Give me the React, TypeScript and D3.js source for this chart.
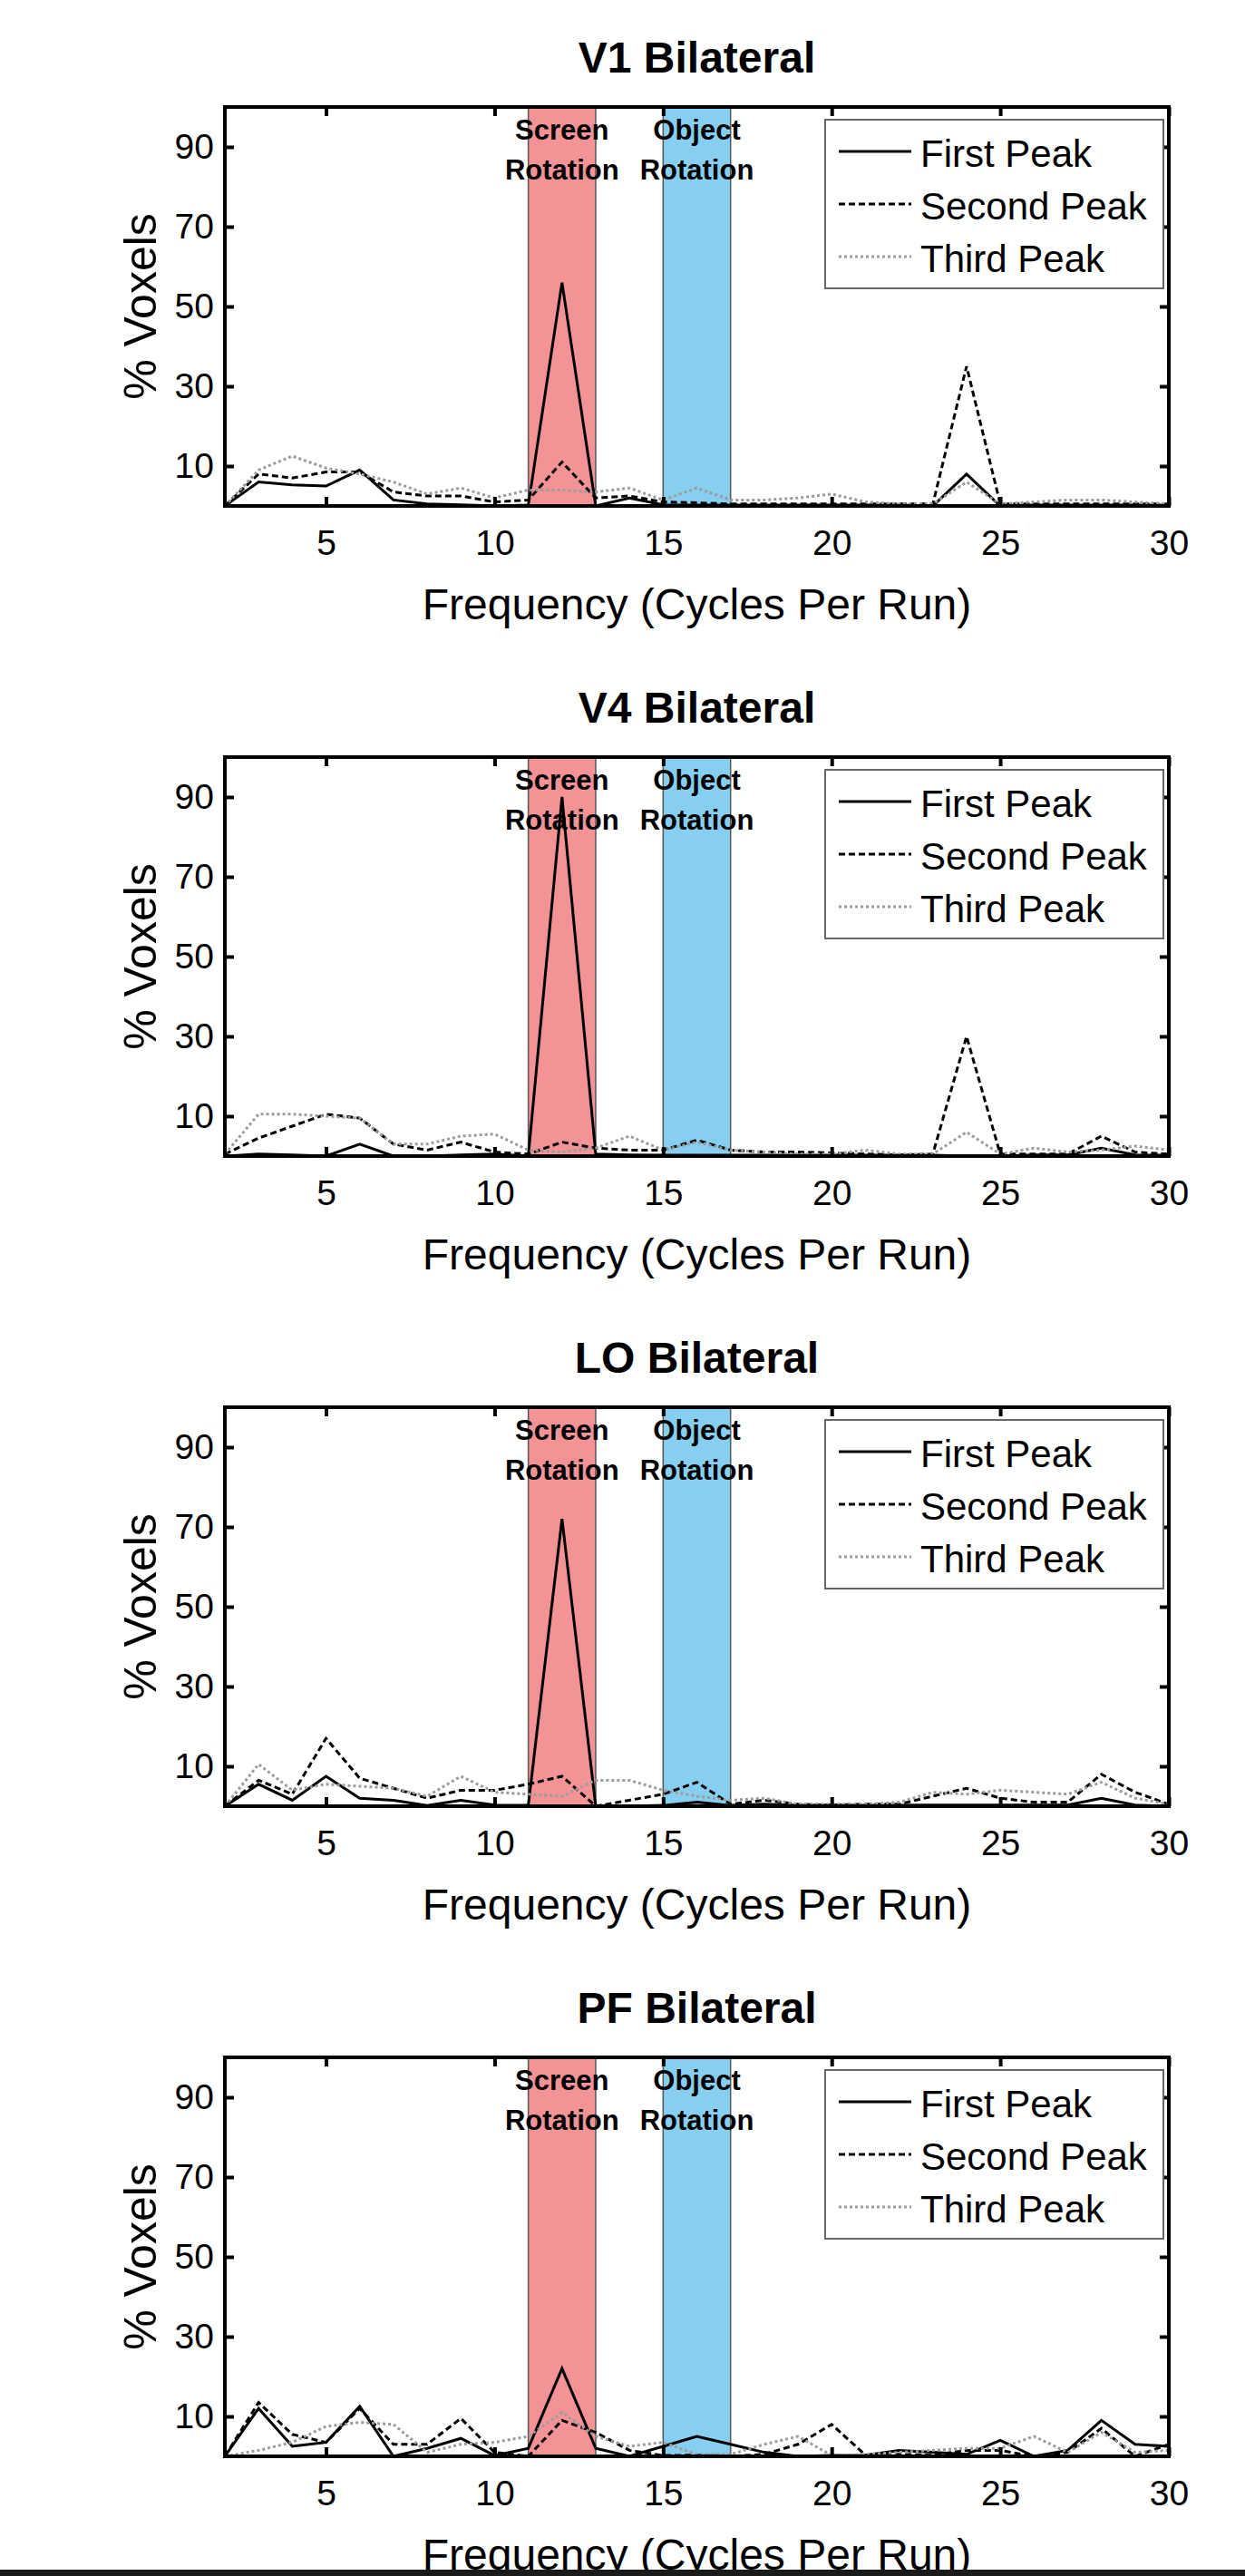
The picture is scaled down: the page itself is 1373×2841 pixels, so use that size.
import React, { useEffect, useRef } from 'react';
import * as d3 from 'd3';

// frequencies (cycles per run) sampled in every panel
const FREQS = [2, 3, 4, 5, 6, 7, 8, 9, 10, 11, 12, 13, 14, 15, 16, 17, 18, 19, 20, 21, 22, 23, 24, 25, 26, 27, 28, 29, 30];
const X_TICKS = [5, 10, 15, 20, 25, 30];
const Y_TICKS = [10, 30, 50, 70, 90];

const TITLES = ['V1 Bilateral', 'V4 Bilateral', 'LO Bilateral', 'PF Bilateral'];
const SERIES_NAMES = ['First Peak', 'Second Peak', 'Third Peak'];

// highlighted frequency bands
const BAND_RANGES = [[11, 13], [15, 17]];
const BAND_LABELS = [['Screen', 'Rotation'], ['Object', 'Rotation']];

// % voxels per frequency
const V1_FIRST = [0, 6, 5.3, 5, 9, 1.5, 0.5, 0.3, 0, 0.2, 56, 0, 2, 0.3, 0.2, 0.2, 0.2, 0.2, 0.2, 0.2, 0.2, 0, 8, 0, 0.2, 0.2, 0.2, 0.2, 0.2];
const V1_SECOND = [0, 8, 7, 8.5, 8.5, 3.5, 2.5, 2.5, 1, 1.5, 11, 2, 2.5, 1, 0.8, 0.5, 0.5, 0.5, 0.5, 0.5, 0.5, 0.5, 35, 0.5, 0.5, 0.5, 0.5, 0.5, 0.5];
const V1_THIRD = [0, 9, 12.5, 9.5, 8, 6, 3, 4.5, 2, 4, 4, 3.5, 4.5, 1.5, 4.5, 1.5, 1.5, 2, 3, 1, 0.5, 0.5, 6, 0.5, 1, 1.5, 1.5, 1, 0.5];

const V4_FIRST = [0, 0.5, 0.3, 0, 3, 0, 0, 0.3, 0.5, 0, 90, 0.5, 0.3, 0.2, 0.2, 0.2, 0.2, 0.2, 0.2, 0.2, 0.2, 0.2, 0, 0, 0.3, 0.3, 2, 0.3, 0.2];
const V4_SECOND = [0.5, 4.5, 7.5, 10.5, 9.5, 3, 1.5, 3.5, 1, 0.5, 3.5, 2, 1.5, 1.5, 4, 1.5, 1, 1, 0.8, 0.5, 0.3, 0.5, 30, 0.5, 0.5, 0.5, 5, 1, 0.5];
const V4_THIRD = [0.5, 10.5, 10.5, 10, 9.5, 3, 3, 5, 5.5, 1.5, 1, 2, 5, 1.5, 3.5, 1.5, 1, 0.5, 0.5, 1.5, 0.5, 0.5, 6, 0.5, 2, 1, 1.5, 2.5, 1.5];

const LO_FIRST = [0, 5.5, 1.5, 7.5, 2, 1.5, 0.2, 1.5, 0.3, 0.2, 72, 0, 0, 0.2, 1, 0.2, 0.5, 0.2, 0.2, 0.2, 0.2, 0.3, 0.3, 0.3, 0.3, 0.3, 2, 0.3, 0];
const LO_SECOND = [0, 6.5, 3, 17, 7, 4.5, 2, 4, 4, 5.5, 7.5, 0, 1.5, 3, 6, 0.5, 1.5, 0.5, 0.3, 0.5, 0.5, 2.5, 4.5, 2, 1, 1, 8, 3.5, 0.5];
const LO_THIRD = [0, 10.5, 4, 5.5, 5, 4.5, 2.5, 7.5, 3.5, 3, 2.5, 6.5, 6.5, 4, 2.5, 1.5, 2, 0.5, 0.5, 0.5, 1, 3.5, 3, 4, 3.5, 3, 6, 2, 0.5];

const PF_FIRST = [0, 12, 2.5, 3.5, 12.5, 0, 2, 4.5, 0.2, 2, 22, 2, 0, 2.5, 5, 3, 1, 0, 0.2, 0.3, 1.5, 1, 0.5, 4, 0, 1.5, 9, 3, 2.5];
const PF_SECOND = [0, 13.5, 5.5, 3.5, 12, 3, 3, 9.5, 1, 0, 9, 6, 1.5, 0.2, 0.3, 0, 0.5, 3, 8, 0.3, 0.5, 0.3, 1.5, 1.5, 0, 1, 7, 0, 3];
const PF_THIRD = [0, 1.5, 3.5, 7.5, 8.5, 8, 1, 3, 3.5, 5, 11, 5, 2.5, 3.5, 0.5, 0.5, 3, 5, 0.2, 0.5, 1, 1.5, 2, 2, 5, 1, 6, 1, 1.5];

const PANELS = [
    [V1_FIRST, V1_SECOND, V1_THIRD],
    [V4_FIRST, V4_SECOND, V4_THIRD],
    [LO_FIRST, LO_SECOND, LO_THIRD],
    [PF_FIRST, PF_SECOND, PF_THIRD],
];

/* Styling */
const FONT = '"Liberation Sans", Arial, Helvetica, sans-serif';
const BAND_COLORS = ['#f39396', '#87cff1'];
const LINE_STYLES = [
    { stroke: '#000', dash: null, width: 3 },
    { stroke: '#000', dash: '7,4', width: 3 },
    { stroke: '#9c9c9c', dash: '3,3', width: 3 },
];

const W = 1373;
const H = 2841;
const margin = { top: 118, left: 248 };
const figW = 1041;
const figH = 440;
const panelStep = 717;

const drawPanel = (svg, idx) => {
    const g = svg.append('g')
        .attr('transform', `translate(${margin.left},${margin.top + idx * panelStep})`);

    const x = d3.scaleLinear().domain([2, 30]).range([0, figW]);
    const y = d3.scaleLinear().domain([0, 100]).range([figH, 0]);

    // bands
    BAND_RANGES.forEach((r, b) => {
        g.append('rect')
            .attr('x', x(r[0]))
            .attr('y', 0)
            .attr('width', x(r[1]) - x(r[0]))
            .attr('height', figH)
            .attr('fill', BAND_COLORS[b])
            .attr('stroke', '#555')
            .attr('stroke-width', 1.5);
    });

    // peak lines
    const makeLine = d3.line()
        .x((d, k) => x(FREQS[k]))
        .y((d) => y(d));

    PANELS[idx].forEach((vals, s) => {
        const st = LINE_STYLES[s];
        g.append('path')
            .attr('d', makeLine(vals))
            .attr('fill', 'none')
            .attr('stroke', st.stroke)
            .attr('stroke-width', st.width)
            .attr('stroke-dasharray', st.dash)
            .attr('stroke-linejoin', 'miter');
    });

    // band labels
    BAND_RANGES.forEach((r, b) => {
        const cx = x((r[0] + r[1]) / 2);
        BAND_LABELS[b].forEach((txt, l) => {
            g.append('text')
                .attr('x', cx)
                .attr('y', 36 + l * 44)
                .attr('text-anchor', 'middle')
                .attr('font-family', FONT)
                .attr('font-weight', 'bold')
                .attr('font-size', 31)
                .text(txt);
        });
    });

    // axes (ticks pointing inward on all sides)
    const bottom = g.append('g')
        .attr('transform', `translate(0,${figH})`)
        .call(d3.axisBottom(x).tickValues(X_TICKS).tickSizeInner(-10).tickSizeOuter(0).tickPadding(26));
    const top = g.append('g')
        .call(d3.axisTop(x).tickValues(X_TICKS).tickSizeInner(-10).tickSizeOuter(0).tickFormat(() => ''));
    const left = g.append('g')
        .call(d3.axisLeft(y).tickValues(Y_TICKS).tickSizeInner(-10).tickSizeOuter(0).tickPadding(12));
    const right = g.append('g')
        .attr('transform', `translate(${figW},0)`)
        .call(d3.axisRight(y).tickValues(Y_TICKS).tickSizeInner(-10).tickSizeOuter(0).tickFormat(() => ''));

    [bottom, top, left, right].forEach((a) => {
        a.select('.domain').remove();
        a.selectAll('line').attr('stroke', '#000').attr('stroke-width', 4);
        a.selectAll('text')
            .attr('font-family', FONT)
            .attr('font-size', 39)
            .attr('fill', '#000');
    });

    g.append('rect')
        .attr('x', 0)
        .attr('y', 0)
        .attr('width', figW)
        .attr('height', figH)
        .attr('fill', 'none')
        .attr('stroke', '#000')
        .attr('stroke-width', 4);

    // legend
    const lg = g.append('g').attr('transform', 'translate(662,14)');
    lg.append('rect')
        .attr('width', 373)
        .attr('height', 186)
        .attr('fill', '#fff')
        .attr('stroke', '#666')
        .attr('stroke-width', 2);
    SERIES_NAMES.forEach((name, s) => {
        const st = LINE_STYLES[s];
        const ly = 35 + s * 58;
        lg.append('line')
            .attr('x1', 15)
            .attr('x2', 95)
            .attr('y1', ly)
            .attr('y2', ly)
            .attr('stroke', st.stroke)
            .attr('stroke-width', st.width)
            .attr('stroke-dasharray', st.dash);
        lg.append('text')
            .attr('x', 105)
            .attr('y', ly + 17)
            .attr('font-family', FONT)
            .attr('font-size', 42)
            .text(name);
    });

    // title and axis labels
    g.append('text')
        .attr('x', figW / 2)
        .attr('y', -38)
        .attr('text-anchor', 'middle')
        .attr('font-family', FONT)
        .attr('font-weight', 'bold')
        .attr('font-size', 48)
        .text(TITLES[idx]);

    g.append('text')
        .attr('x', figW / 2)
        .attr('y', figH + 125)
        .attr('text-anchor', 'middle')
        .attr('font-family', FONT)
        .attr('font-size', 48)
        .text('Frequency (Cycles Per Run)');

    g.append('text')
        .attr('transform', `translate(-76,${figH / 2}) rotate(-90)`)
        .attr('text-anchor', 'middle')
        .attr('font-family', FONT)
        .attr('font-size', 50)
        .text('% Voxels');
};

const App = () => {
    const node = useRef(null);

    useEffect(() => {
        const svg = d3.select(node.current);
        svg.selectAll('*').remove();
        svg.append('rect').attr('width', W).attr('height', H).attr('fill', '#fff');
        PANELS.forEach((p, i) => drawPanel(svg, i));
        // dark strip along the bottom edge of the page
        svg.append('rect')
            .attr('x', 0)
            .attr('y', H - 7)
            .attr('width', W)
            .attr('height', 7)
            .attr('fill', '#1a1a1a');
    }, []);

    return (
        <div style={{ position: 'absolute', left: 0, top: 0 }}>
            <svg ref={node} width={W} height={H} style={{ display: 'block' }}></svg>
        </div>
    );
};

export default App;
